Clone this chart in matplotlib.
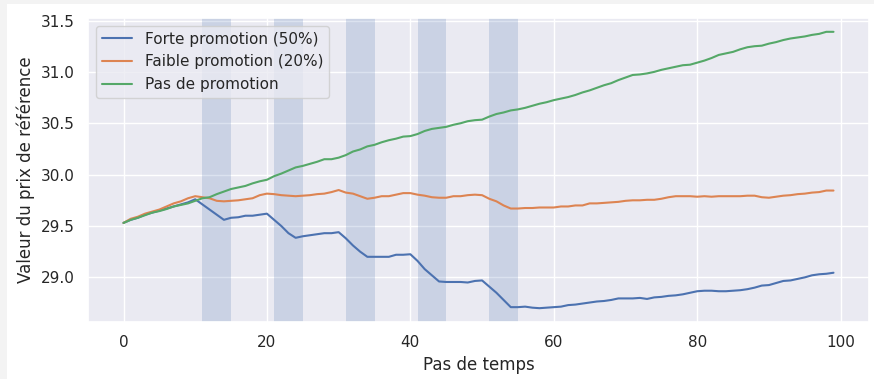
import matplotlib
matplotlib.use("Agg")
import matplotlib.pyplot as plt
import matplotlib.patches as mpatches
import seaborn as sns
import numpy as np

# valeurs (100 pas de temps)
pas = list(range(100))

forte = [29.53, 29.56, 29.58, 29.61, 29.63, 29.65, 29.67, 29.69, 29.71, 29.73,
         29.76, 29.71, 29.66, 29.61, 29.56, 29.58, 29.585, 29.60, 29.60, 29.61,
         29.62, 29.56, 29.50, 29.43, 29.385, 29.40, 29.41, 29.42, 29.43, 29.43,
         29.44, 29.38, 29.31, 29.25, 29.20, 29.20, 29.20, 29.20, 29.22, 29.22,
         29.225, 29.16, 29.08, 29.02, 28.96, 28.955, 28.955, 28.955, 28.95, 28.965,
         28.97, 28.91, 28.85, 28.78, 28.71, 28.71, 28.715, 28.705, 28.70, 28.705,
         28.71, 28.715, 28.73, 28.735, 28.745, 28.755, 28.765, 28.77, 28.78, 28.795,
         28.795, 28.795, 28.80, 28.79, 28.805, 28.81, 28.82, 28.825, 28.835, 28.85,
         28.865, 28.87, 28.87, 28.865, 28.865, 28.87, 28.875, 28.885, 28.90, 28.92,
         28.925, 28.945, 28.965, 28.97, 28.985, 29.00, 29.02, 29.03, 29.035, 29.045]

faible = [29.53, 29.57, 29.59, 29.62, 29.64, 29.66, 29.69, 29.72, 29.74, 29.77,
          29.79, 29.78, 29.77, 29.745, 29.74, 29.745, 29.75, 29.76, 29.77, 29.80,
          29.815, 29.81, 29.80, 29.795, 29.79, 29.795, 29.80, 29.81, 29.815, 29.83,
          29.85, 29.825, 29.815, 29.79, 29.765, 29.775, 29.79, 29.79, 29.805, 29.82,
          29.82, 29.805, 29.795, 29.78, 29.775, 29.775, 29.79, 29.79, 29.80, 29.805,
          29.80, 29.765, 29.74, 29.70, 29.67, 29.67, 29.675, 29.675, 29.68, 29.68,
          29.68, 29.69, 29.69, 29.70, 29.70, 29.72, 29.72, 29.725, 29.73, 29.735,
          29.745, 29.75, 29.75, 29.755, 29.755, 29.765, 29.78, 29.79, 29.79, 29.79,
          29.785, 29.79, 29.785, 29.79, 29.79, 29.79, 29.79, 29.795, 29.795, 29.78,
          29.775, 29.785, 29.795, 29.80, 29.81, 29.815, 29.825, 29.83, 29.845, 29.845]

sans_promo = [29.53, 29.56, 29.58, 29.605, 29.63, 29.645, 29.665, 29.69, 29.705, 29.72,
              29.745, 29.77, 29.78, 29.81, 29.835, 29.86, 29.875, 29.89, 29.915, 29.935,
              29.95, 29.985, 30.01, 30.04, 30.07, 30.085, 30.105, 30.125, 30.15, 30.15,
              30.165, 30.19, 30.225, 30.245, 30.275, 30.29, 30.315, 30.335, 30.35, 30.37,
              30.375, 30.395, 30.425, 30.445, 30.455, 30.465, 30.485, 30.50, 30.52, 30.53,
              30.535, 30.565, 30.59, 30.605, 30.625, 30.635, 30.65, 30.67, 30.69, 30.705,
              30.725, 30.74, 30.755, 30.775, 30.80, 30.82, 30.845, 30.87, 30.89, 30.92,
              30.945, 30.97, 30.975, 30.985, 31.0, 31.02, 31.035, 31.05, 31.065, 31.07,
              31.09, 31.11, 31.135, 31.165, 31.18, 31.195, 31.22, 31.24, 31.25, 31.255,
              31.275, 31.29, 31.31, 31.325, 31.335, 31.345, 31.36, 31.37, 31.39, 31.39]

# periodes de promotion (debut, fin)
promos = [(11, 15), (21, 25), (31, 35), (41, 45), (51, 55)]

sns.set_theme()
plt.rcParams['font.family'] = ['DejaVu Sans']

fig = plt.figure(figsize=(8.74, 3.79), dpi=100)
fig.patch.set_facecolor('#f3f3f3')
# zone blanche (capture decalee de quelques pixels)
fig.patches.append(mpatches.Rectangle((7/874, 0), 1 - 7/874, 1 - 4/379,
                                      transform=fig.transFigure, facecolor='white',
                                      edgecolor='none', zorder=-10))
ax = fig.add_axes([88/874, 57/379, 781/874, 304/379])

for debut, fin in promos:
    ax.axvspan(debut, fin, color='C0', alpha=0.2, linewidth=0)

ax.plot(pas, forte, label='Forte promotion (50%)')
ax.plot(pas, faible, label='Faible promotion (20%)')
ax.plot(pas, sans_promo, label='Pas de promotion')

ax.set_xlabel('Pas de temps')
ax.set_ylabel('Valeur du prix de référence')
ax.legend(loc='upper left')

fig.savefig('out.png', dpi=100, facecolor=fig.get_facecolor())
